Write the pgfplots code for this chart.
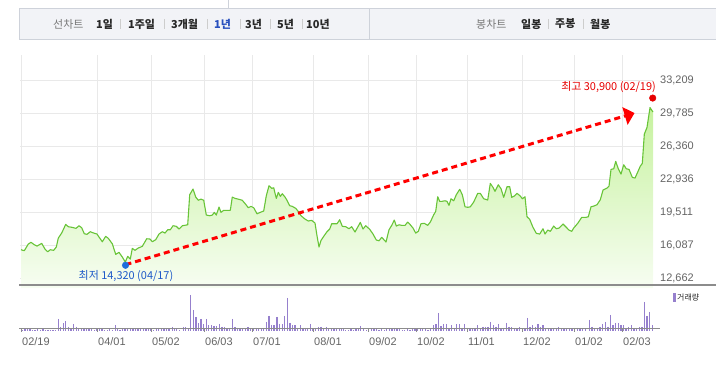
\documentclass[border=0pt]{standalone}
\usepackage{fontspec}
\setmainfont{Liberation Sans}
\newfontfamily\kr{Noto Sans CJK KR}
\usepackage{pgfplots}
\pgfplotsset{compat=1.18}
\usepackage{pgfplotstable}
\usetikzlibrary{arrows.meta}

\definecolor{tabfill}{RGB}{242,243,247}
\definecolor{tabborder}{RGB}{206,210,218}
\definecolor{tabgray}{RGB}{120,120,120}
\definecolor{tabdark}{RGB}{40,40,40}
\definecolor{tabblue}{RGB}{40,80,190}
\definecolor{sepgray}{RGB}{205,205,205}
\definecolor{gridgray}{RGB}{233,233,233}
\definecolor{labgray}{RGB}{100,100,100}
\definecolor{axisgray}{RGB}{140,140,140}
\definecolor{linegreen}{RGB}{104,196,56}
\definecolor{filltop}{RGB}{198,242,158}
\definecolor{fillbot}{RGB}{247,253,242}
\definecolor{volpurple}{RGB}{150,128,205}
\definecolor{arrowred}{RGB}{255,0,0}
\definecolor{dotblue}{RGB}{30,110,220}
\definecolor{lowblue}{RGB}{30,90,200}
\definecolor{highred}{RGB}{230,0,0}

\pgfplotstableread{
x p
21 15600
24.3 15500
28.3 16190
31 16370
34.3 16120
37 15980
41.7 16260
45 15670
47.7 15390
50.3 15600
53.7 15540
56.3 15880
58.3 16810
61.7 17330
65.7 18230
68.3 17990
72.3 17920
76 17820
79 18090
81.7 17880
84.3 17260
87 17200
90.3 17470
93.7 17330
97 17230
99 16920
102.3 16430
105.7 16990
108.3 16780
112.3 16220
115.7 15120
119 15330
122.3 14840
125.3 14320
127.7 14910
130.3 14630
132.3 15740
135 15540
138.3 15780
142.3 15950
146.7 16740
150 16710
152.3 16430
155.7 16640
159 17230
162.3 17470
165 17330
167.7 17670
170.3 17670
173 18090
176.3 18030
179 17750
182.3 18090
187.7 18190
189.7 21310
193 21900
195.7 21070
198.3 20730
201 20860
203.7 20730
206.3 19200
209.7 19130
212.3 19200
214.3 19480
216.3 19200
219 20030
221 19480
223.7 19690
227 19690
230.3 19690
232.3 21070
235 20930
239 20830
242.3 20730
245.7 20310
248.3 19960
251 20100
253.7 19960
257 19330
260.3 19480
263.7 19620
266.3 21200
269 22240
271.7 21970
273.7 22030
276.3 20930
278.3 21560
280.3 21140
282.3 21410
285 21070
287 20730
289.7 20170
292.3 20100
295.7 19900
299 19480
301 19130
305 18780
308.3 18580
311.7 18650
315 18370
317 17050
319 15880
321 16570
323.7 16990
327 17470
329.7 17750
331.7 18300
334.3 18300
337 18300
339.7 18710
342.3 18030
345.7 17990
349 17780
351.7 17990
355 17440
358.3 18060
360.3 18440
363 17750
365.7 18090
369.7 17720
373 17230
376.3 16610
379 16530
381.7 16890
386 16400
389 17670
391.7 18130
394.3 18680
396.3 18060
399 18190
401.7 18130
405 18130
407.7 18470
410.3 18190
413 17850
415.7 17330
418.3 17510
421 18300
424.3 18340
427.7 18130
430.3 18470
433.7 19230
435.7 19580
437.7 21100
439.7 20620
441.7 20620
445 20680
447 20620
449 20210
451 20890
453.7 20680
456.3 21310
459.7 21870
462.3 21310
465 20060
467.7 20000
470.3 20060
473.7 20550
477.7 21450
480.3 21450
483.7 20890
487.7 20760
490.3 22490
493 22070
495 21660
498.3 22340
501 21930
503.7 21040
507 22140
509.7 22140
511.7 21040
514.3 21170
517 21450
520.3 21170
522.3 20890
525 21100
527 19020
529.7 18750
533 17920
536.3 17300
539.7 17230
543 17780
545 17230
547.7 17640
550.3 17510
553.7 18060
556.3 17780
559 17850
563 18270
565.7 17990
569 17640
571.7 17510
573.7 17850
577.7 18340
581.7 18960
585.7 18960
588.3 19020
591 20060
593.7 20130
597 20270
600.3 20790
603 21790
607 22000
609 22210
611 23940
613.7 24000
615.7 24770
618.3 24000
621 23450
623.7 24420
626.3 24000
629 23940
632.3 23110
635 23040
637.7 23660
640.3 24280
642.3 24560
644.3 27600
647 28300
650 30350
653 29890
}\pricetable

\pgfplotstableread{
x v
22.3 1.3
25 2
27.3 3
30 2.3
32.7 1.3
35 1.3
37.7 1.7
40.3 1.3
43 2
45.3 1.3
48 1.3
50.7 1.3
53 1.3
55.7 1.3
58.3 12.3
60.7 4.3
63.3 7.7
65.3 10.3
68.3 4.3
71 2.3
73.7 7.3
76.3 4.3
78.7 3.3
81.3 2
84 3.3
86.7 2.7
89 2.3
91.7 3.3
94.3 1.3
97 2
99.3 3.3
102 1.7
104.7 1.3
107.3 1.3
109.7 1.7
112.3 1.3
115.3 5.7
117.3 2.7
120 1.3
122.7 1.7
125 2
127.7 1.7
130.3 2
133 2.3
135.7 1.7
138 2
140.7 2.3
143.3 2
146 2.3
148.3 2.7
151 3
153.7 1.3
156.3 2
158.7 3.3
161.3 2.7
164 3
166.7 2.3
169 2
172.3 4.3
174.3 2.3
176.7 2.7
179.3 1.3
183.3 4.3
185.7 3.7
188.3 2.3
190.7 36.3
193.3 21.3
196 13.7
198.3 7.7
201 12.3
203.7 6.7
206.3 12.3
208.7 5.7
211.3 5.7
214 5.3
216.7 5
219.3 7.3
222 4.3
224.3 4.3
227 2.3
229.7 3.3
232.3 12.3
235 4.3
237.3 3.3
240 3.3
242.7 2.7
245.3 2.3
248 4.3
250.7 2.7
253.3 2.3
256.3 3.3
258.7 2.7
261.3 2.7
263.7 2.7
266.3 9.3
269 15.3
271.3 6.3
274 5.7
277 14.3
279.7 7.3
282.3 6.7
284.7 15.3
287.3 33.3
290 8.3
292.7 5.7
295 5.7
297.7 3.3
300.3 5.7
303 3.3
305.3 3.3
307.7 3.3
310.3 7.3
313 2
315.7 3.3
318.3 4.3
321 4.3
323.7 2.3
326.3 4.3
328.7 2.3
331.3 2.3
334 2.3
336.7 2.7
339.3 2.3
341.7 1.7
343.3 2
345.7 1.3
348.3 1.3
351 1.7
353.3 1.3
356 2
358.7 1.7
360.3 5.3
363.7 2.3
366.3 1.3
368.7 1.3
371.3 1.7
374 2.3
376.7 2
379 1.3
381.7 1.7
384.3 1.3
386.7 2
389.3 2.7
392 2
394.3 3.3
397 2.3
399.7 1.7
402.3 1.3
404.7 1.3
407.3 1.7
410 1.3
412.7 2
415 1.7
417.7 1.7
420.3 2.3
422.7 2
425.3 1.7
428 1.3
430.7 2.3
433.3 5.7
436 6.7
438.3 18.3
441 5
443.7 7.3
446.3 7.3
449 3.3
451.7 5.7
454.3 3.3
456.7 6.7
459.3 6.7
462 3.3
464.7 7.3
467.3 3.3
470 3.3
472.3 2.3
475 3.3
477.7 5.7
480.3 3.3
483 4.3
485.3 4.3
488 4.3
490.7 9.3
493.3 5.7
496 4.3
498.3 7.3
501 3.3
503.7 3.3
506.3 8.3
509 4.3
511.7 4.3
514.3 2.7
517 2.7
519.7 4.3
522.3 2.7
525 2.3
527.3 13.3
530 4.3
532.7 5.7
535.3 4.3
538 7.3
540.3 4.3
543 5.7
545.7 3.3
548.3 3.3
551 3.3
553.7 2.7
556.3 3.3
558.7 4.3
561.3 2.3
564 2.3
566.7 2.3
569.3 2.7
572 2.3
574.7 3.3
577.3 3.3
580 3.3
582.7 2.7
585.3 2.7
589.3 11.3
592 4.3
594.7 3.3
597.3 3.3
600 4.3
602.7 7.3
605.3 9.3
608 4.3
610.3 16.3
613 5.7
615.7 8.3
618.3 8.3
621 5.7
623.3 5.7
626 3.3
628.7 4.3
631.3 5.7
634 3.3
636.7 3.3
639.3 4.3
642 4.3
644.3 29.3
647 15.3
649.7 19.3
652.3 5.7
}\voltable

\begin{document}
\begin{tikzpicture}[x=1bp,y=1bp]
\useasboundingbox (0,0) rectangle (716,369);
% tab bar
\draw[tabborder, line width=0.8bp] (228,369) -- (228,360);
\fill[tabfill] (19,330) rectangle (716,360);
\draw[tabborder, line width=1bp] (19,330) rectangle (718,360);
\draw[tabborder, line width=1bp] (369,330) -- (369,360);
\begin{scope}[every node/.style={anchor=west, inner sep=0pt, font=\kr\fontsize{11}{13}\selectfont}]
\node[text=tabgray] at (53,345) {선차트};
\node[text=tabdark, font=\kr\bfseries\fontsize{11}{13}\selectfont] at (96,345) {1일};
\node[text=tabdark, font=\kr\bfseries\fontsize{11}{13}\selectfont] at (128,345) {1주일};
\node[text=tabdark, font=\kr\bfseries\fontsize{11}{13}\selectfont] at (171,345) {3개월};
\node[text=tabblue, font=\kr\bfseries\fontsize{11}{13}\selectfont] at (214,345) {1년};
\node[text=tabdark, font=\kr\bfseries\fontsize{11}{13}\selectfont] at (245,345) {3년};
\node[text=tabdark, font=\kr\bfseries\fontsize{11}{13}\selectfont] at (277,345) {5년};
\node[text=tabdark, font=\kr\bfseries\fontsize{11}{13}\selectfont] at (306,345) {10년};
\node[text=tabgray] at (476,345) {봉차트};
\node[text=tabdark, font=\kr\bfseries\fontsize{11}{13}\selectfont] at (521,345) {일봉};
\node[text=tabdark, font=\kr\bfseries\fontsize{11}{13}\selectfont] at (555,345) {주봉};
\node[text=tabdark, font=\kr\bfseries\fontsize{11}{13}\selectfont] at (590,345) {월봉};
\end{scope}
\foreach \sx in {120,164,207,240,270,302,548,583}{
  \draw[sepgray, line width=0.8bp] (\sx,340) -- (\sx,350);
}

% price chart (volume bars share this axis, drawn below its box)
\begin{axis}[
  at={(20,84)}, anchor=south west,
  scale only axis, width=633bp, height=233bp,
  xmin=20, xmax=653, ymin=11624, ymax=35803,
  axis line style={draw=none},
  clip=false,
  scaled y ticks=false, scaled x ticks=false,
  xtick={21,97,151,204,252,313,368,416,467,522,574,622},
  xticklabels={02/19,04/01,05/02,06/03,07/01,08/01,09/02,10/02,11/01,12/02,01/02,02/03},
  xticklabel style={anchor=north west, inner sep=0pt, xshift=1bp, yshift=-49bp, text=labgray, font=\fontsize{11}{13}\selectfont},
  ytick={12662,16087,19511,22936,26360,29785,33209},
  yticklabels={{12,662},{16,087},{19,511},{22,936},{26,360},{29,785},{33,209}},
  yticklabel pos=right,
  major tick length=0pt,
  tick style={draw=none},
  grid=major,
  major grid style={draw=gridgray, line width=0.9bp},
  yticklabel style={anchor=west, inner xsep=0pt, xshift=7bp, text=labgray, font=\fontsize{11}{13}\selectfont},
]
\addplot[draw=none, top color=filltop, bottom color=fillbot] table[x=x,y=p] {\pricetable}
  -- (axis cs:653,11624) -- (axis cs:21,11624) -- cycle;
\addplot[color=linegreen, line width=1.1bp, line join=round] table[x=x,y=p] {\pricetable};
\addplot[color=arrowred, line width=3bp, dash pattern=on 6bp off 4bp,
  -{Triangle[length=10bp,width=18bp]}] coordinates {(125.5,14050) (634.5,29780)};
\addplot[only marks, mark=*, mark size=3.3bp, mark options={fill=dotblue, draw=dotblue}] coordinates {(125.5,13990)};
\addplot[only marks, mark=*, mark size=3.3bp, mark options={fill=highred, draw=highred}] coordinates {(652.7,31340)};
% volume bars: baseline at 7162 (panel bottom), 103.77 units per px of bar height
\addplot[draw=none, mark=none,
  error bars/.cd, y dir=minus, y explicit, error mark=none,
  error bar style={color=volpurple, line width=1.2bp}]
  table[x=x, y expr={7162+103.77*\thisrow{v}}, y error expr={103.77*\thisrow{v}}] {\voltable};
\node[anchor=center, text=lowblue, inner sep=0pt, font=\kr\fontsize{11}{13}\selectfont] at (axis cs:126,12870) {최저 14,320 (04/17)};
\node[anchor=east, text=highred, inner sep=0pt, font=\kr\fontsize{11}{13}\selectfont] at (axis cs:656,32480) {최고 30,900 (02/19)};
\end{axis}

\draw[axisgray, line width=1.2bp] (19,84) -- (716,84);
\draw[axisgray, line width=1bp] (19,41) -- (660,41);
\foreach \t in {21,97,151,204,252,313,368,416,467,522,574,622}{
  \draw[axisgray, line width=0.8bp] (\t,41) -- (\t,37);
}

% volume legend
\fill[volpurple] (673,67) rectangle (675.5,76);
\node[anchor=west, inner sep=0pt, text=tabdark, font=\kr\fontsize{8}{10}\selectfont] at (677,71.5) {거래량};
\end{tikzpicture}
\end{document}
